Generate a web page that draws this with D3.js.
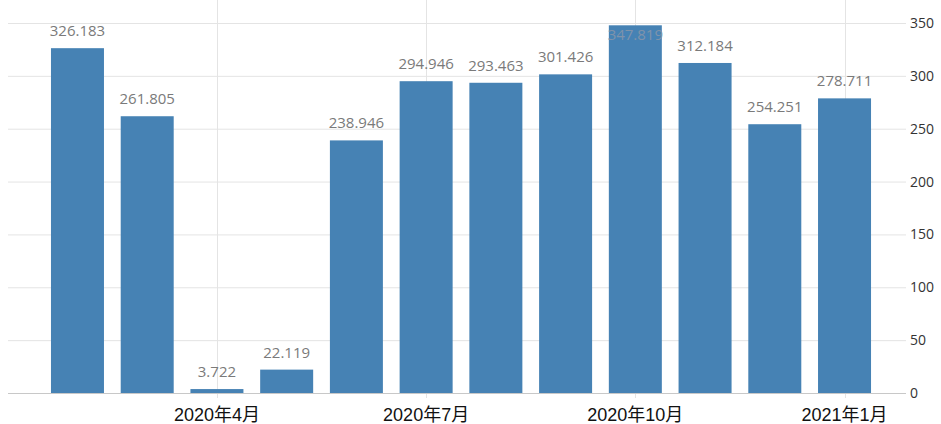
<!DOCTYPE html>
<html><head><meta charset="utf-8">
<script src="https://cdn.jsdelivr.net/npm/d3@7"></script>
<style>
html,body{margin:0;padding:0;background:#fff;}
svg{display:block;}
</style></head>
<body>
<svg id="chart" width="941" height="424"></svg>
<script>
const months = ["2020-02","2020-03","2020-04","2020-05","2020-06","2020-07","2020-08","2020-09","2020-10","2020-11","2020-12","2021-01"];
const values = [326.183, 261.805, 3.722, 22.119, 238.946, 294.946, 293.463, 301.426, 347.819, 312.184, 254.251, 278.711];
const tickMonths = ["2020-04","2020-07","2020-10","2021-01"];
const tickLabels = ["2020年4月","2020年7月","2020年10月","2021年1月"];
const yTicks = [0,50,100,150,200,250,300,350];

const svg = d3.select("#chart");
const x = d3.scaleBand().domain(months).range([42.6, 879.4]).paddingInner(0.24).paddingOuter(0.12);
const y = d3.scaleLinear().domain([0, 350]).range([393, 23]);

// horizontal grid
svg.append("g").selectAll("line").data(yTicks.filter(d=>d>0)).join("line")
  .attr("x1", 8).attr("x2", 906)
  .attr("y1", d=>y(d)+0.5).attr("y2", d=>y(d)+0.5)
  .attr("stroke", "#e4e4e4").attr("stroke-width", 1);
// vertical grid
svg.append("g").selectAll("line").data(tickMonths).join("line")
  .attr("x1", d=>Math.round(x(d)+x.bandwidth()/2)+0.5).attr("x2", d=>Math.round(x(d)+x.bandwidth()/2)+0.5)
  .attr("y1", 0).attr("y2", y(0)+5)
  .attr("stroke", "#e4e4e4").attr("stroke-width", 1);

// bars
svg.append("g").selectAll("rect").data(values).join("rect")
  .attr("x", (d,i)=>x(months[i])).attr("width", x.bandwidth())
  .attr("y", d=>y(d)).attr("height", d=>y(0)-y(d))
  .attr("fill", "#4682b4");

// baseline
svg.append("line").attr("x1", 8).attr("x2", 906).attr("y1", y(0)+0.5).attr("y2", y(0)+0.5)
  .attr("stroke", "#c8c8c8").attr("stroke-width", 1);

// value labels
svg.append("g").selectAll("text").data(values).join("text")
  .attr("x", (d,i)=>x(months[i])+x.bandwidth()/2)
  .attr("y", d=> y(d) - 12 < 18 ? y(d)+15 : y(d)-12)
  .attr("text-anchor", "middle")
  .attr("font-family", "'Open Sans', sans-serif").attr("font-size", 15)
  .attr("fill", d=> y(d) - 12 < 18 ? "#7f93ab" : "#7a7a7a")
  .text(d=>d.toFixed(3));

// y axis labels
svg.append("g").selectAll("text").data(yTicks).join("text")
  .attr("x", 910).attr("y", d=>y(d)+5)
  .attr("font-family", "'Open Sans', sans-serif").attr("font-size", 14)
  .attr("fill", "#333")
  .text(d=>d);

// x axis labels
svg.append("g").selectAll("text").data(tickMonths).join("text")
  .attr("x", d=>x(d)+x.bandwidth()/2).attr("y", 421)
  .attr("text-anchor", "middle")
  .attr("font-family", "'Liberation Sans','Noto Sans CJK SC', sans-serif").attr("font-size", 18)
  .attr("fill", "#111")
  .text((d,i)=>tickLabels[i]);
</script>
</body></html>
